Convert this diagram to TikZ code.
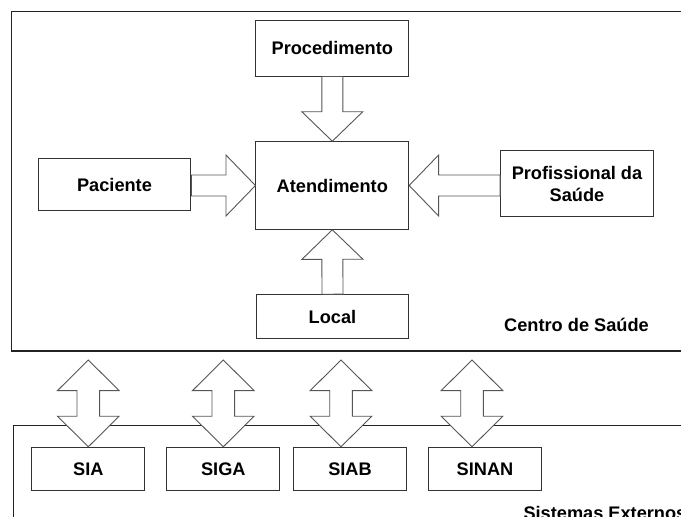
\documentclass[tikz,border=0pt]{standalone}
\usepackage{fontspec}
\setmainfont{Liberation Sans}
\usetikzlibrary{calc}
\definecolor{boxline}{HTML}{333333}
\definecolor{arrline}{HTML}{555555}
\definecolor{frameline}{HTML}{222222}
\tikzset{
  lbl/.style={font=\bfseries\fontsize{18.2}{21.7}\selectfont, text=black},
  box/.style={lbl, draw=boxline, line width=1pt, fill=white, inner sep=0pt, align=center, minimum width=152.7pt},
  sysbox/.style={box, minimum width=113.3pt, minimum height=43.4pt},
  framestyle/.style={draw=frameline, line width=1.3pt},
  blockarr/.style={draw=arrline, line width=0.9pt, fill=white, line join=miter},
}
\newcommand\BlockArrow[2]{%
  \draw[blockarr] ($(#1)!10.5pt!90:(#2)$)
    -- ($(#2)!29.5pt!(#1)!10.5pt!-90:(#1)$)
    -- ($(#2)!29.5pt!(#1)!30.5pt!-90:(#1)$)
    -- (#2)
    -- ($(#2)!29.5pt!(#1)!30.5pt!90:(#1)$)
    -- ($(#2)!29.5pt!(#1)!10.5pt!90:(#1)$)
    -- ($(#1)!10.5pt!-90:(#2)$) -- cycle;}
\newcommand\DoubleBlockArrow[2]{%
  \draw[blockarr] (#1)
    -- ($(#1)!30.6pt!(#2)!30.8pt!90:(#2)$)
    -- ($(#1)!30.6pt!(#2)!11.3pt!90:(#2)$)
    -- ($(#2)!30.6pt!(#1)!11.3pt!-90:(#1)$)
    -- ($(#2)!30.6pt!(#1)!30.8pt!-90:(#1)$)
    -- (#2)
    -- ($(#2)!30.6pt!(#1)!30.8pt!90:(#1)$)
    -- ($(#2)!30.6pt!(#1)!11.3pt!90:(#1)$)
    -- ($(#1)!30.6pt!(#2)!11.3pt!-90:(#2)$)
    -- ($(#1)!30.6pt!(#2)!30.8pt!-90:(#2)$) -- cycle;}
\begin{document}
\begin{tikzpicture}[x=1pt,y=-1pt]
\useasboundingbox (0,0) rectangle (681,517);
\clip (0,0) rectangle (681,517);
% frames
\draw[framestyle] (11.7,11.7) rectangle (700,351);
\draw[framestyle] (13.3,540) |- (700,425.5);
% nodes
\node[box, minimum height=56pt] (proc) at (332.3,48) {Procedimento};
\node[box, minimum height=87.6pt] (aten) at (332.3,185.5) {Atendimento};
\node[box, minimum height=52.4pt] (pac) at (114.5,184.5) {Paciente};
\node[box, minimum height=65.7pt] (prof) at (577,183.8) {Profissional da\\Saúde};
\node[box, minimum height=43.6pt] (loc) at (332.5,316.5) {Local};
\node[lbl, anchor=base west, inner sep=0pt] (centro) at (504,331.7) {Centro de Saúde};
\node[sysbox] (sia) at (88.3,469) {SIA};
\node[sysbox] (siga) at (223.3,469) {SIGA};
\node[sysbox] (siab) at (350,469) {SIAB};
\node[sysbox] (sinan) at (485,469) {SINAN};
\node[lbl, anchor=base west, inner sep=0pt] (ext) at (523.3,519.4) {Sistemas Externos};
% single block arrows
\BlockArrow{proc.south}{aten.north}
\BlockArrow{pac.east |- aten.west}{aten.west}
\BlockArrow{prof.west |- aten.east}{aten.east}
\BlockArrow{loc.north}{aten.south}
% double block arrows
\coordinate (t1) at (88.3,360);
\coordinate (t2) at (223.3,360);
\coordinate (t3) at (341,360);
\coordinate (t4) at (472,360);
\DoubleBlockArrow{t1}{t1 |- sia.north}
\DoubleBlockArrow{t2}{t2 |- siga.north}
\DoubleBlockArrow{t3}{t3 |- siab.north}
\DoubleBlockArrow{t4}{t4 |- sinan.north}
\end{tikzpicture}
\end{document}
